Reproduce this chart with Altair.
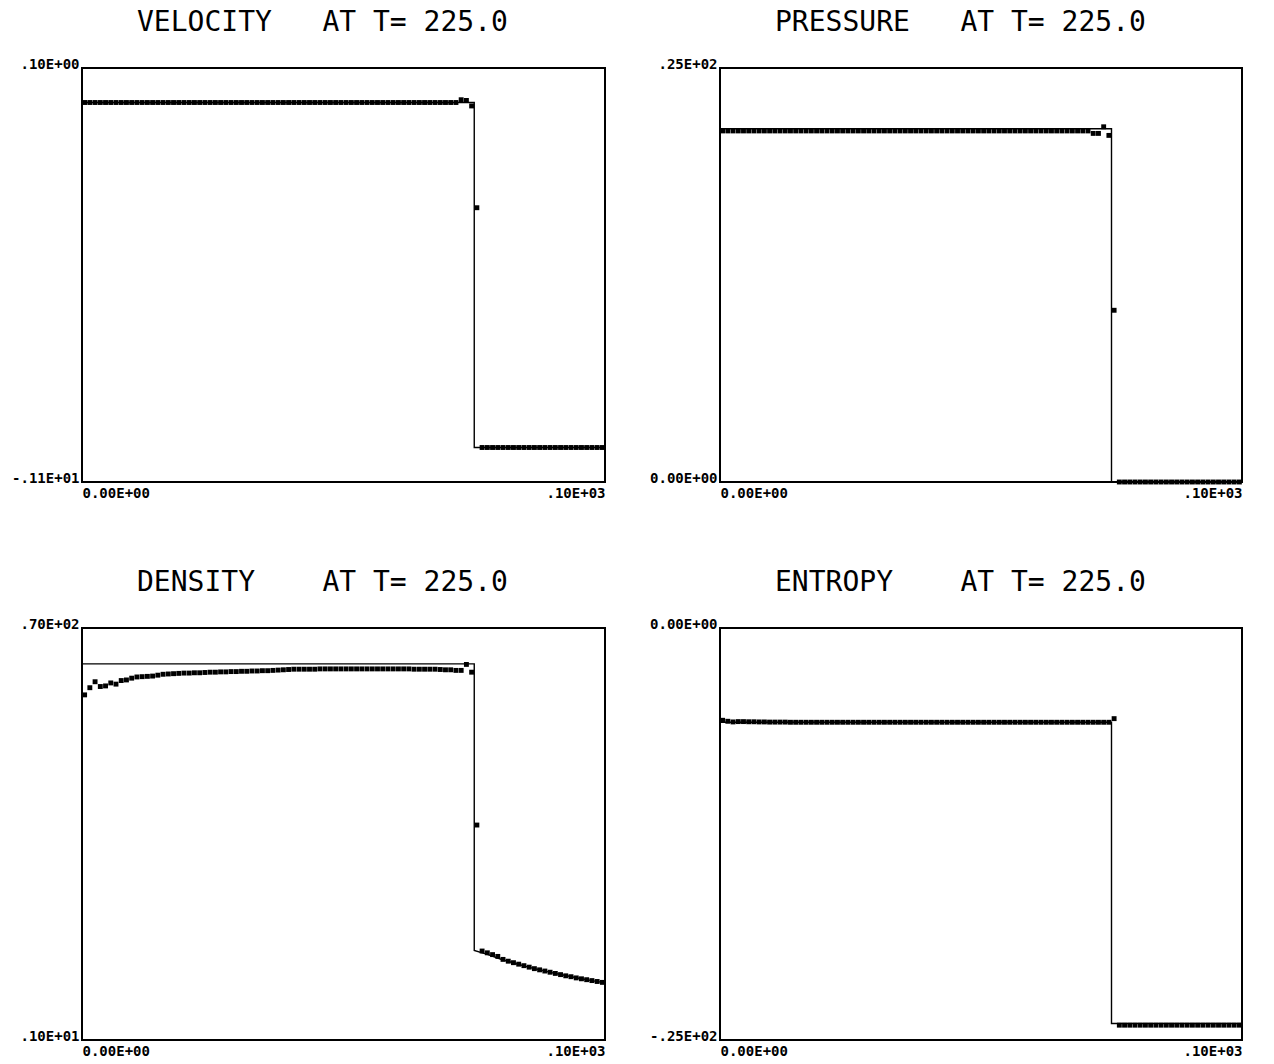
import altair as alt
import pandas as pd

# ---------------------------------------------------------------------------
# Cell centres of the 100-cell grid on [0, 100]
CELL_X = [
    0.5, 1.5, 2.5, 3.5, 4.5, 5.5, 6.5, 7.5, 8.5, 9.5,
    10.5, 11.5, 12.5, 13.5, 14.5, 15.5, 16.5, 17.5, 18.5, 19.5,
    20.5, 21.5, 22.5, 23.5, 24.5, 25.5, 26.5, 27.5, 28.5, 29.5,
    30.5, 31.5, 32.5, 33.5, 34.5, 35.5, 36.5, 37.5, 38.5, 39.5,
    40.5, 41.5, 42.5, 43.5, 44.5, 45.5, 46.5, 47.5, 48.5, 49.5,
    50.5, 51.5, 52.5, 53.5, 54.5, 55.5, 56.5, 57.5, 58.5, 59.5,
    60.5, 61.5, 62.5, 63.5, 64.5, 65.5, 66.5, 67.5, 68.5, 69.5,
    70.5, 71.5, 72.5, 73.5, 74.5, 75.5, 76.5, 77.5, 78.5, 79.5,
    80.5, 81.5, 82.5, 83.5, 84.5, 85.5, 86.5, 87.5, 88.5, 89.5,
    90.5, 91.5, 92.5, 93.5, 94.5, 95.5, 96.5, 97.5, 98.5, 99.5,
]

# Computed cell values at T = 225
VELOCITY_NUM = [
    0.0, 0.0, 0.0, 0.0, 0.0, 0.0, 0.0, 0.0, 0.0, 0.0,
    0.0, 0.0, 0.0, 0.0, 0.0, 0.0, 0.0, 0.0, 0.0, 0.0,
    0.0, 0.0, 0.0, 0.0, 0.0, 0.0, 0.0, 0.0, 0.0, 0.0,
    0.0, 0.0, 0.0, 0.0, 0.0, 0.0, 0.0, 0.0, 0.0, 0.0,
    0.0, 0.0, 0.0, 0.0, 0.0, 0.0, 0.0, 0.0, 0.0, 0.0,
    0.0, 0.0, 0.0, 0.0, 0.0, 0.0, 0.0, 0.0, 0.0, 0.0,
    0.0, 0.0, 0.0, 0.0, 0.0, 0.0, 0.0, 0.0, 0.0, 0.0,
    0.0, 0.0, 0.008, 0.006, -0.01, -0.305, -1.0, -1.0, -1.0, -1.0,
    -1.0, -1.0, -1.0, -1.0, -1.0, -1.0, -1.0, -1.0, -1.0, -1.0,
    -1.0, -1.0, -1.0, -1.0, -1.0, -1.0, -1.0, -1.0, -1.0, -1.0,
]

PRESSURE_NUM = [
    21.2, 21.2, 21.2, 21.2, 21.2, 21.2, 21.2, 21.2, 21.2, 21.2,
    21.2, 21.2, 21.2, 21.2, 21.2, 21.2, 21.2, 21.2, 21.2, 21.2,
    21.2, 21.2, 21.2, 21.2, 21.2, 21.2, 21.2, 21.2, 21.2, 21.2,
    21.2, 21.2, 21.2, 21.2, 21.2, 21.2, 21.2, 21.2, 21.2, 21.2,
    21.2, 21.2, 21.2, 21.2, 21.2, 21.2, 21.2, 21.2, 21.2, 21.2,
    21.2, 21.2, 21.2, 21.2, 21.2, 21.2, 21.2, 21.2, 21.2, 21.2,
    21.2, 21.2, 21.2, 21.2, 21.2, 21.2, 21.2, 21.2, 21.2, 21.2,
    21.2, 21.05, 21.05, 21.45, 20.93, 10.37, 0.0, 0.0, 0.0, 0.0,
    0.0, 0.0, 0.0, 0.0, 0.0, 0.0, 0.0, 0.0, 0.0, 0.0,
    0.0, 0.0, 0.0, 0.0, 0.0, 0.0, 0.0, 0.0, 0.0, 0.0,
]

DENSITY_NUM = [
    58.8, 60.0, 61.0, 60.2, 60.3, 60.8, 60.6, 61.2, 61.3, 61.6,
    61.8, 61.85, 61.9, 61.95, 62.1, 62.25, 62.3, 62.35, 62.4, 62.45,
    62.45, 62.5, 62.5, 62.55, 62.6, 62.6, 62.65, 62.65, 62.7, 62.7,
    62.75, 62.75, 62.8, 62.8, 62.85, 62.85, 62.9, 62.95, 63.0, 63.05,
    63.1, 63.1, 63.1, 63.1, 63.1, 63.15, 63.15, 63.15, 63.15, 63.15,
    63.15, 63.15, 63.15, 63.15, 63.15, 63.15, 63.15, 63.15, 63.15, 63.15,
    63.15, 63.15, 63.15, 63.1, 63.1, 63.1, 63.1, 63.1, 63.05, 63.0,
    63.0, 62.9, 62.9, 63.9, 62.6, 37.0, 15.9, 15.6, 15.3, 15.0,
    14.5, 14.2, 13.95, 13.7, 13.45, 13.2, 12.95, 12.75, 12.55, 12.35,
    12.15, 11.95, 11.75, 11.6, 11.4, 11.25, 11.1, 10.95, 10.8, 10.65,
]

ENTROPY_NUM = [
    -5.6, -5.66, -5.7, -5.68, -5.68, -5.69, -5.69, -5.7, -5.7, -5.71,
    -5.71, -5.71, -5.71, -5.72, -5.72, -5.72, -5.72, -5.72, -5.72, -5.72,
    -5.72, -5.72, -5.72, -5.72, -5.72, -5.72, -5.72, -5.72, -5.72, -5.72,
    -5.72, -5.72, -5.72, -5.72, -5.72, -5.72, -5.72, -5.72, -5.72, -5.72,
    -5.72, -5.72, -5.72, -5.72, -5.72, -5.72, -5.72, -5.72, -5.72, -5.72,
    -5.72, -5.72, -5.72, -5.72, -5.72, -5.72, -5.72, -5.72, -5.72, -5.72,
    -5.72, -5.72, -5.72, -5.72, -5.72, -5.72, -5.72, -5.72, -5.72, -5.72,
    -5.72, -5.72, -5.72, -5.72, -5.72, -5.5, -24.1, -24.1, -24.1, -24.1,
    -24.1, -24.1, -24.1, -24.1, -24.1, -24.1, -24.1, -24.1, -24.1, -24.1,
    -24.1, -24.1, -24.1, -24.1, -24.1, -24.1, -24.1, -24.1, -24.1, -24.1,
]

# Exact (analytic) solution, drawn as a polyline
STEP_X = [0.0, 75.0, 75.0, 100.0]
VELOCITY_EXACT = [0.0, 0.0, -1.0, -1.0]
PRESSURE_EXACT = [21.33, 21.33, 0.0, 0.0]
ENTROPY_EXACT = [-5.72, -5.72, -24.0, -24.0]
DENSITY_EXACT_X = [0.0, 75.0, 75.0, 77.5, 80.0, 82.5, 85.0, 87.5, 90.0, 92.5, 95.0, 97.5, 100.0]
DENSITY_EXACT = [64.0, 64.0, 16.0, 15.35, 14.57, 13.9, 13.3, 12.75, 12.25, 11.8, 11.35, 10.95, 10.56]

# Axis ranges and corner tick labels
X_RANGE = [0.0, 100.0]
X_TICK_LABELS = ["0.00E+00", ".10E+03"]
VELOCITY_RANGE = [-1.1, 0.1]
VELOCITY_TICK_LABELS = ["-.11E+01", ".10E+00"]
PRESSURE_RANGE = [0.0, 25.0]
PRESSURE_TICK_LABELS = ["0.00E+00", ".25E+02"]
DENSITY_RANGE = [1.0, 70.0]
DENSITY_TICK_LABELS = [".10E+01", ".70E+02"]
ENTROPY_RANGE = [-25.0, 0.0]
ENTROPY_TICK_LABELS = ["-.25E+02", "0.00E+00"]

TITLES = [
    "VELOCITY   AT T= 225.0",
    "PRESSURE   AT T= 225.0",
    "DENSITY    AT T= 225.0",
    "ENTROPY    AT T= 225.0",
]

MONO = "DejaVu Sans Mono"
NBSP = "\u00a0"


def corner_expr(lo, hi, labels):
    mid = (lo + hi) / 2.0
    return f"datum.value < {mid} ? '{labels[0]}' : '{labels[1]}'"


def panel(title, num, ex_x, ex_y, y_range, y_labels, w, h):
    dots = pd.DataFrame({"x": CELL_X, "v": num})
    exact = pd.DataFrame({"x": ex_x, "v": ex_y, "k": list(range(len(ex_x)))})

    x_scale = alt.Scale(domain=X_RANGE, nice=False, zero=False)
    y_scale = alt.Scale(domain=y_range, nice=False, zero=False)

    x_axis = alt.Axis(
        values=X_RANGE,
        labelExpr=corner_expr(X_RANGE[0], X_RANGE[1], X_TICK_LABELS),
        labelFlush=True,
        labelPadding=4,
        labelBaseline="top",
        labelOverlap=False,
    )
    y_axis = alt.Axis(
        values=y_range,
        labelExpr=corner_expr(y_range[0], y_range[1], y_labels),
        labelFlush=False,
        labelPadding=3,
        labelBaseline="alphabetic",
        labelOverlap=False,
    )

    line = alt.Chart(exact).mark_line(color="black", strokeWidth=1.4).encode(
        x=alt.X("x:Q", scale=x_scale, axis=x_axis, title=None),
        y=alt.Y("v:Q", scale=y_scale, axis=y_axis, title=None),
        order=alt.Order("k:Q"),
    )
    pts = alt.Chart(dots).mark_square(size=24, color="black", opacity=1).encode(
        x=alt.X("x:Q", scale=x_scale),
        y=alt.Y("v:Q", scale=y_scale),
    )
    return alt.layer(line, pts).properties(
        width=w,
        height=h,
        title=alt.TitleParams(
            text=title.replace(" ", NBSP),
            anchor="start",
            dx=55,
            frame="group",
            baseline="alphabetic",
            offset=-2,
        ),
    )


p_vel = panel(TITLES[0], VELOCITY_NUM, STEP_X, VELOCITY_EXACT,
              VELOCITY_RANGE, VELOCITY_TICK_LABELS, 523, 414)
p_pre = panel(TITLES[1], PRESSURE_NUM, STEP_X, PRESSURE_EXACT,
              PRESSURE_RANGE, PRESSURE_TICK_LABELS, 522, 414)
p_den = panel(TITLES[2], DENSITY_NUM, DENSITY_EXACT_X, DENSITY_EXACT,
              DENSITY_RANGE, DENSITY_TICK_LABELS, 523, 412)
p_ent = panel(TITLES[3], ENTROPY_NUM, STEP_X, ENTROPY_EXACT,
              ENTROPY_RANGE, ENTROPY_TICK_LABELS, 522, 412)

chart = (
    alt.vconcat(
        alt.hconcat(p_vel, p_pre, spacing=39),
        alt.hconcat(p_den, p_ent, spacing=39),
        spacing=67,
    )
    .properties(padding={"left": 10, "top": 8, "right": 5, "bottom": 5}, background="white")
    .configure_view(stroke="black", strokeWidth=2)
    .configure_axis(
        domain=False,
        ticks=False,
        grid=False,
        labelFont=MONO,
        labelFontSize=14,
        labelFontWeight="bold",
        labelColor="black",
    )
    .configure_title(font=MONO, fontSize=28, fontWeight="normal", color="black")
)

chart.save("out.html", embed_options={"renderer": "svg", "actions": False})
